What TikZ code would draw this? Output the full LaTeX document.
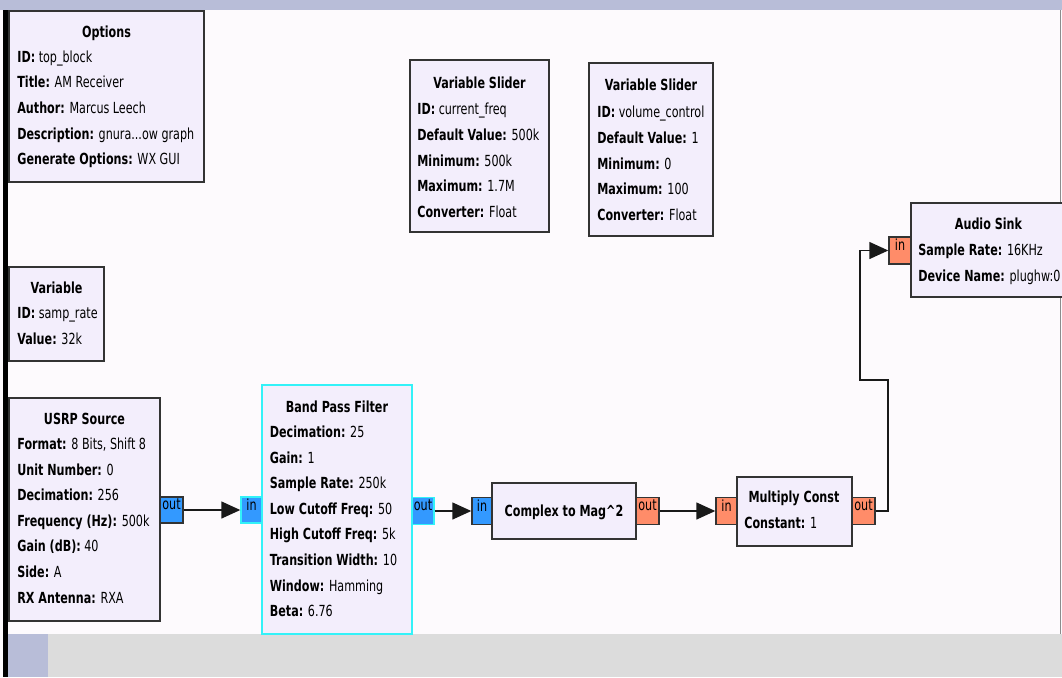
\documentclass[tikz,border=0pt]{standalone}
\usepackage{fontspec}
\setmainfont{DejaVu Sans}[FakeStretch=0.73]
\usetikzlibrary{fit,arrows.meta}

\definecolor{canvas}{HTML}{FDFAFD}
\definecolor{barlav}{HTML}{B8BDD8}
\definecolor{bargray}{HTML}{DCDCDC}
\definecolor{blockfill}{HTML}{F3EEFC}
\definecolor{portblue}{HTML}{3399FF}
\definecolor{portorange}{HTML}{FF8C69}
\definecolor{selcyan}{HTML}{33F2F8}

\newcommand\grcfont{\fontsize{8.7}{14.57}\selectfont}
\newcommand\firstln{\rule{0pt}{10pt}}

\tikzset{
  blk/.style={draw=black!80, fill=blockfill, line width=0.8pt, inner sep=0pt},
  prt/.style={draw=black!80, line width=0.8pt, inner sep=0pt, font=\grcfont},
  cplx/.style={prt, fill=portblue},
  flt/.style={prt, fill=portorange},
  sel/.style={draw=selcyan},
  ttl/.style={anchor=base, inner sep=0pt, font=\grcfont\bfseries},
  txt/.style={anchor=north west, inner sep=0pt, align=left, font=\grcfont},
  wire/.style={draw=black!90, line width=0.8pt, -{Triangle[length=0.38cm,width=0.34cm]}}
}

\begin{document}
\begin{tikzpicture}[x=0.02cm,y=-0.02cm]
\useasboundingbox (0,0) rectangle (1062,677);
\clip (0,0) rectangle (1062,677);

% window
\fill[canvas] (0,0) rectangle (1062,677);
\fill[barlav] (0,0) rectangle (1062,10);
\fill[bargray] (8,634) rectangle (1062,677);
\fill[barlav] (8,634) rectangle (48,677);
\fill[black] (3,10) rectangle (7.5,677);
\fill[black!45] (1059.5,10) rectangle (1061,634);

% options and variables
\node[blk, fit={(9,11) (204,182)}] (opts) {};
\node[ttl] (opts-t) at (106.5,37) {Options};
\node[txt] (opts-b) at (17,44.4) {\firstln\textbf{ID:} top\_block\\
  \textbf{Title:} AM Receiver\\ \textbf{Author:} Marcus Leech\\
  \textbf{Description:} gnura...ow graph\\ \textbf{Generate Options:} WX GUI};

\node[blk, fit={(410,60) (549,232)}] (fslider) {};
\node[ttl] (fslider-t) at (479.5,88) {Variable Slider};
\node[txt] (fslider-b) at (417,97) {\firstln\textbf{ID:} current\_freq\\
  \textbf{Default Value:} 500k\\ \textbf{Minimum:} 500k\\
  \textbf{Maximum:} 1.7M\\ \textbf{Converter:} Float};

\node[blk, fit={(589,63) (713,236)}] (vslider) {};
\node[ttl] (vslider-t) at (651,90.5) {Variable Slider};
\node[txt] (vslider-b) at (597,100) {\firstln\textbf{ID:} volume\_control\\
  \textbf{Default Value:} 1\\ \textbf{Minimum:} 0\\
  \textbf{Maximum:} 100\\ \textbf{Converter:} Float};

\node[blk, fit={(9,267) (104,361)}] (rate) {};
\node[ttl] (rate-t) at (56.5,293) {Variable};
\node[txt] (rate-b) at (17,300.5) {\firstln\textbf{ID:} samp\_rate\\ \textbf{Value:} 32k};

% signal chain
\node[blk, fit={(9,398) (160,621)}] (usrp) {};
\node[ttl] (usrp-t) at (84.5,424.5) {USRP Source};
\node[txt] (usrp-b) at (17,431.5) {\firstln\textbf{Format:} 8 Bits, Shift 8\\
  \textbf{Unit Number:} 0\\ \textbf{Decimation:} 256\\
  \textbf{Frequency (Hz):} 500k\\ \textbf{Gain (dB):} 40\\
  \textbf{Side:} A\\ \textbf{RX Antenna:} RXA};
\node[cplx, fit={(160,497) (183,523)}] (usrp-out) {out};

\node[blk, sel, fit={(262,385) (412,634)}] (bpf) {};
\node[ttl] (bpf-t) at (337,412) {Band Pass Filter};
\node[txt] (bpf-b) at (269.5,419.5) {\firstln\textbf{Decimation:} 25\\
  \textbf{Gain:} 1\\ \textbf{Sample Rate:} 250k\\
  \textbf{Low Cutoff Freq:} 50\\ \textbf{High Cutoff Freq:} 5k\\
  \textbf{Transition Width:} 10\\ \textbf{Window:} Hamming\\ \textbf{Beta:} 6.76};
\node[cplx, sel, fit={(241,497) (262,523)}] (bpf-in) {in};
\node[cplx, sel, fit={(412,497.5) (434,524.5)}] (bpf-out) {out};

\node[blk, fit={(492,483) (636,539)}] (cmag) {};
\node[ttl] (cmag-t) at (564,516) {Complex to Mag\textasciicircum2};
\node[cplx, fit={(472,497.5) (492,524.5)}] (cmag-in) {in};
\node[flt, fit={(636,497.5) (659,524.5)}] (cmag-out) {out};

\node[blk, fit={(737,477) (852,546)}] (mconst) {};
\node[ttl] (mconst-t) at (794,502.5) {Multiply Const};
\node[txt] (mconst-b) at (744,510.5) {\firstln\textbf{Constant:} 1};
\node[flt, fit={(716,497.5) (737,524.5)}] (mconst-in) {in};
\node[flt, fit={(852,497.5) (875,524.5)}] (mconst-out) {out};

\node[blk, fit={(911,203) (1068,297)}] (sink) {};
\node[ttl] (sink-t) at (988.5,229) {Audio Sink};
\node[txt] (sink-b) at (918,237.5) {\firstln\textbf{Sample Rate:} 16KHz\\
  \textbf{Device Name:} plughw:0};
\node[flt, fit={(889,237) (911,264)}] (sink-in) {in};

% connections
\coordinate (up) at (888,380);
\coordinate (back) at (860,380);
\draw[wire] (usrp-out) -- (bpf-in);
\draw[wire] (bpf-out) -- (cmag-in);
\draw[wire] (cmag-out) -- (mconst-in);
\draw[wire] (mconst-out) -| (up) -- (back) |- (sink-in);

\end{tikzpicture}
\end{document}
